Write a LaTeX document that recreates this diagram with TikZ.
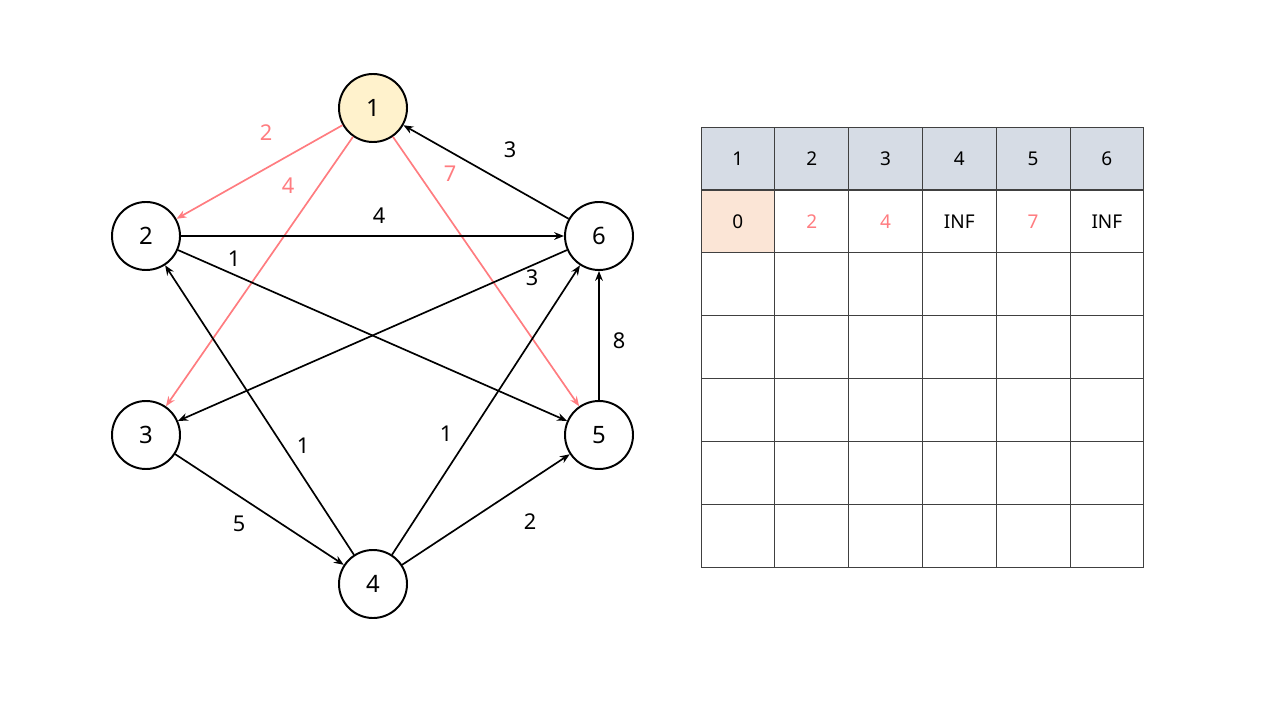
\documentclass[tikz,border=0pt]{standalone}
\usepackage{fontspec}
\setmainfont{Noto Sans}
\usetikzlibrary{arrows.meta, positioning}
\definecolor{lightred}{HTML}{FF7C80}
\definecolor{startfill}{HTML}{FFF2CC}
\definecolor{headfill}{HTML}{D6DCE5}
\definecolor{zerofill}{HTML}{FBE5D6}
\definecolor{gridgray}{HTML}{404040}

\begin{document}
\begin{tikzpicture}[x=0.025cm, y=-0.025cm,
  vertex/.style={circle, draw, line width=1.4pt, minimum size=1.7cm, inner sep=0pt, font=\fontsize{17}{20}\selectfont},
  arc/.style={-{Stealth[length=7pt,width=5.5pt]}, line width=1.2pt},
  hot/.style={arc, draw=lightred, fill=lightred},
  wt/.style={font=\fontsize{15.5}{18}\selectfont},
  cell/.style={draw=gridgray, line width=0.7pt, minimum width=1.845cm, minimum height=1.5725cm, inner sep=0pt, font=\fontsize{13.5}{16}\selectfont}]
  \useasboundingbox (0,0) rectangle (1280,720);

  % Vertices
  \node[vertex, fill=startfill] (n1) at (373,108) {1};
  \node[vertex] (n2) at (146,236) {2};
  \node[vertex] (n3) at (146,435) {3};
  \node[vertex] (n4) at (373,584) {4};
  \node[vertex] (n5) at (599,435) {5};
  \node[vertex] (n6) at (599,236) {6};

  % Edges leaving the start vertex
  \draw[hot] (n1) -- (n2);
  \draw[hot] (n1) -- (n3);
  \draw[hot] (n1) -- (n5);

  % Remaining edges
  \draw[arc] (n6) -- (n1);
  \draw[arc] (n2) -- (n6);
  \draw[arc] (n2) -- (n5);
  \draw[arc] (n6) -- (n3);
  \draw[arc] (n5) -- (n6);
  \draw[arc] (n4) -- (n2);
  \draw[arc] (n4) -- (n6);
  \draw[arc] (n3) -- (n4);
  \draw[arc] (n4) -- (n5);

  % Weights
  \node[wt, lightred] (w12) at (266,133) {2};
  \node[wt, lightred] (w13) at (288,186) {4};
  \node[wt, lightred] (w15) at (450,174) {7};
  \node[wt] (w61) at (510,150) {3};
  \node[wt] (w26) at (379,216) {4};
  \node[wt] (w25) at (234,259) {1};
  \node[wt] (w63) at (532,278) {3};
  \node[wt] (w56) at (619,341) {8};
  \node[wt] (w42) at (303,446) {1};
  \node[wt] (w46) at (446,434) {1};
  \node[wt] (w34) at (239,524) {5};
  \node[wt] (w45) at (530,522) {2};

  % Distance table
  \foreach \c in {1,...,6}
    \node[cell, fill=headfill] (h\c) at ({701+73.8*(\c-0.5)}, 158.5) {\c};
  \foreach \c/\v/\col/\bg in {1/0/black/zerofill, 2/2/lightred/white, 3/4/lightred/white,
                              4/INF/black/white, 5/7/lightred/white, 6/INF/black/white}
    \node[cell, fill=\bg, text=\col] (d\c) at ({701+73.8*(\c-0.5)}, 221.5) {\v};
  \foreach \r in {2,...,6}
    \foreach \c in {1,...,6}
      \node[cell] (t\r\c) at ({701+73.8*(\c-0.5)}, {190+62.9*(\r-0.5)}) {};
\end{tikzpicture}
\end{document}
